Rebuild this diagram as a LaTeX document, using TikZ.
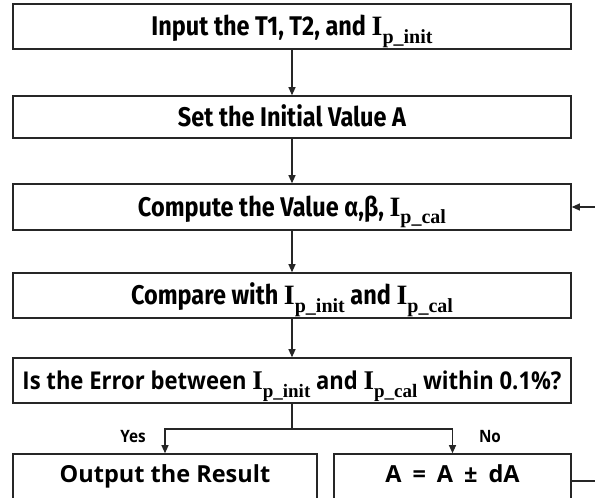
\documentclass[tikz,border=0pt]{standalone}
\usepackage{fontspec}
\setmainfont{Fira Sans}
\newfontfamily\condf[FakeStretch=0.87]{Fira Sans}
\newfontfamily\korf[FakeStretch=0.9]{Open Sans}
\newfontfamily\wkorf{Open Sans}
\newfontfamily\tmsf{Liberation Serif}
\usetikzlibrary{arrows.meta}
\newcommand\Isb[3]{{\tmsf\bfseries\fontsize{#1}{#1}\selectfont I\raisebox{-0.28em}{\fontsize{#2}{#2}\selectfont #3}}}
\begin{document}
\begin{tikzpicture}[x=1pt,y=-1pt,
  box/.style={draw=black!85,line width=1.6pt,inner sep=0pt,text height=18pt,text depth=0pt},
  topbox/.style={box,minimum width=558pt,font=\condf\bfseries\fontsize{27}{30}\selectfont},
  lowbox/.style={box,font=\korf\bfseries\fontsize{24.5}{26}\selectfont},
  endbox/.style={box,minimum height=52pt,text height=17pt,text depth=12pt,font=\wkorf\bfseries\fontsize{23.5}{26}\selectfont},
  arr/.style={draw=black!85,line width=1.1pt,-{Triangle[length=8pt,width=7pt]}},
  ln/.style={draw=black!85,line width=1.1pt},
  lab/.style={font=\korf\bfseries\fontsize{17}{19}\selectfont}]
\useasboundingbox (0,0) rectangle (595,498);
\node[topbox,minimum height=45pt] (inp) at (292,26.5) {Input the T1, T2, and \Isb{28}{20}{p\_init}};
\node[topbox,minimum height=42pt] (set) at (292,117) {Set the Initial Value A};
\node[topbox,minimum height=46pt] (comp) at (292,207) {Compute the Value α,β, \Isb{28}{20}{p\_cal}};
\node[topbox,minimum height=45pt] (cmpr) at (292,295.5) {Compare with \Isb{28}{20}{p\_init} and \Isb{28}{20}{p\_cal}};
\node[lowbox,minimum width=558pt,minimum height=45pt] (dec) at (292,380.5) {Is the Error between \Isb{27}{19}{p\_init} and \Isb{27}{19}{p\_cal} within 0.1\%?};
\node[endbox,minimum width=304pt] (out) at (165,480) {Output the Result};
\node[endbox,minimum width=237pt] (upd) at (452.5,480) {A\hskip 11pt=\hskip 11pt A\hskip 11pt±\hskip 11pt dA};
\draw[arr] (inp) -- (set);
\draw[arr] (set) -- (comp);
\draw[arr] (comp) -- (cmpr);
\draw[arr] (cmpr) -- (dec);
\coordinate (bar) at (292,429);
\draw[ln] (dec.south) -- (bar);
\draw[arr] (bar) -| (out.north);
\draw[arr] (bar) -| (upd.north);
\node[lab] (yes) at (133,437) {Yes};
\node[lab] (no) at (490,437) {No};
\coordinate (fbr) at (597,481);
\coordinate (fbt) at (597,207);
\draw[ln] (upd.east |- fbr) -- (fbr);
\draw[arr] (fbt) -- (comp.east);
\end{tikzpicture}
\end{document}
